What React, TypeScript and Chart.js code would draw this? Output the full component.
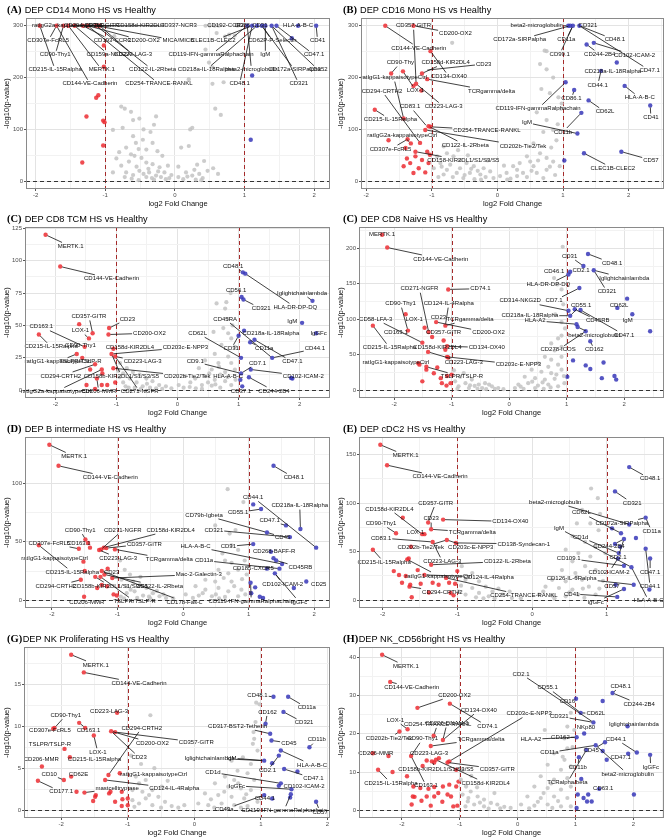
import React, { useEffect, useRef } from 'react';
import { Chart, registerables } from 'chart.js';

Chart.register(...registerables);

type Pt = [number, number];
type Lab = [string, number, number, number, number]; // text, pointX, pointY, labelX, labelY

const FC_LINES = [-1, 1];
const P_LINE = 0;
const X_TICKS = [-2, -1, 0, 1, 2];
const X_TICKS_E = [-2, -1, 0, 1];

// ---------------- (A) CD14 Mono ----------------
const A_GREY: Pt[] = [
  [0.44, 300], [0.5, 300], [0.57, 300], [0.63, 300], [0.6, 286], [0.78, 283], [0.72, 279], [0.9, 300], [0.86, 281],
  [-0.87, 280], [0.44, 254], [0.49, 229], [0.54, 220], [0.7, 191], [0.54, 188], [0.2, 197], [0.58, 140], [0.66, 128],
  [0.25, 103], [0.22, 100], [0.09, 65], [0.2, 68], [0.32, 32], [0.42, 39], [0.47, 20], [0.16, 17], [0.25, 11], [0.35, 14],
  [0.05, 8], [0.12, 4], [0.3, 3], [0.4, 6], [0.55, 25], [0.62, 14], [0.05, 28],
  [-0.77, 144], [-0.72, 140], [-0.63, 134], [-0.89, 99], [-0.75, 103], [-0.6, 118], [-0.51, 121], [-0.27, 125], [-0.3, 109],
  [-0.6, 87], [-0.56, 74], [-0.46, 80], [-0.7, 65], [-0.63, 52], [-0.58, 49], [-0.41, 61], [-0.32, 74], [-0.25, 58],
  [-0.18, 49], [-0.41, 36], [-0.32, 33], [-0.22, 27], [-0.15, 17], [-0.37, 17], [-0.51, 20], [-0.27, 11], [-0.2, 8],
  [-0.13, 4], [-0.7, 17], [-0.41, 8], [-0.89, 17], [-0.77, 30], [-0.48, 45], [-0.66, 38], [-0.35, 95], [-0.45, 100],
  [-0.8, 56], [-0.55, 28], [-0.1, 30], [-0.05, 12], [-0.62, 5], [-0.3, 3], [-0.52, 62], [-0.38, 24], [-0.6, 12],
  [-0.45, 14], [-0.33, 6], [-0.24, 19], [-0.08, 6], [0.18, 9], [0.28, 22], [0.38, 2], [-0.52, 2], [-0.72, 8], [-0.84, 44],
];
const A_DOWN: Pt[] = [
  [-1.94, 300], [-1.7, 300], [-1.6, 300], [-1.53, 300], [-1.44, 300], [-1.32, 300], [-1.25, 300], [-1.13, 300], [-1.08, 300],
  [-1.02, 262], [-1.02, 221], [-1.1, 166], [-1.13, 161], [-1.27, 125], [-1.03, 117], [-1.01, 114], [-1.03, 69], [-1.33, 36],
];
const A_UP: Pt[] = [
  [1.04, 300], [1.11, 300], [1.18, 300], [1.25, 300], [1.3, 300], [1.39, 300], [1.46, 300], [1.77, 300], [2.03, 300],
  [1.68, 276], [1.11, 204], [1.09, 80],
];
const A_LABELS: Lab[] = [
  ['ratIgG2a-kappaisotypeCtrl', -1.94, 300, -1.55, 300],
  ['CD294-CRTH2', -1.6, 300, -1.3, 300],
  ['CD357-GITR', -1.53, 300, -1.05, 300],
  ['CD158d-KIR2DL4', -1.44, 300, -0.5, 300],
  ['CD337-NCR3', -1.32, 300, 0.05, 300],
  ['CD192-CCR2', 1.04, 300, 0.73, 300],
  ['CD86', 1.11, 300, 0.97, 300],
  ['CD31', 1.25, 300, 1.22, 300],
  ['HLA-A-B-C', 1.77, 300, 1.77, 300],
  ['CD307e-FcRL5', -1.7, 300, -1.82, 271],
  ['CD193-CCR3', -1.32, 300, -0.9, 271],
  ['CD200-OX2', -1.25, 300, -0.45, 271],
  ['MICA/MICB', -1.13, 300, 0.05, 271],
  ['CLEC1B-CLEC2', 1.11, 300, 0.55, 271],
  ['CD62P-P-Selectin', 1.25, 300, 1.4, 271],
  ['CD41', 2.03, 300, 2.05, 271],
  ['CD90-Thy1', -1.6, 300, -1.72, 244],
  ['CD159a-NKG2A', -1.44, 300, -0.95, 244],
  ['CD223-LAG-3', -1.08, 300, -0.6, 244],
  ['CD119-IFN-gammaRalphachain', 1.04, 300, 0.52, 244],
  ['IgM', 1.3, 300, 1.3, 244],
  ['CD47.1', 1.46, 300, 2.0, 244],
  ['CD215-IL-15Ralpha', -1.94, 300, -1.72, 215],
  ['MERTK.1', -1.53, 300, -1.05, 215],
  ['CD122-IL-2Rbeta', -1.13, 300, -0.32, 215],
  ['CD218a-IL-18Ralpha', 1.18, 300, 0.45, 215],
  ['beta2-microglobulin', 1.04, 300, 1.1, 215],
  ['CD172a-SIRPalpha', 1.25, 300, 1.72, 215],
  ['CD352', 1.39, 300, 2.06, 215],
  ['CD144-VE-Cadherin', -1.7, 300, -1.22, 188],
  ['CD254-TRANCE-RANKL', -1.25, 300, -0.23, 188],
  ['CD48.1', 1.11, 300, 0.93, 188],
  ['CD321', 1.39, 300, 1.78, 188],
];
const A_YTICKS = [0, 100, 200, 300];

// ---------------- (B) CD16 Mono ----------------
const B_GREY: Pt[] = [
  [-0.69, 267], [0.75, 251], [0.65, 226], [0.75, 216], [0.85, 200], [0.67, 178], [0.93, 162], [0.6, 133], [0.75, 118],
  [0.85, 99], [0.9, 79], [0.55, 73], [0.65, 54], [0.75, 45], [0.85, 38], [0.45, 48], [0.34, 35], [0.55, 29], [0.24, 29],
  [0.14, 16], [0.39, 16], [0.6, 16], [0.75, 22], [0.95, 29], [-0.82, 67], [-0.77, 54], [-0.92, 48], [-0.67, 48],
  [-0.57, 41], [-0.87, 35], [-0.72, 32], [-0.47, 35], [-0.36, 29], [-0.57, 25], [-0.77, 22], [-0.21, 25], [-0.11, 19],
  [-0.42, 16], [-0.62, 16], [-0.82, 13], [-0.26, 13], [0.04, 10], [-0.06, 6], [-0.52, 6], [-0.97, 25], [-0.9, 8],
  [-0.35, 4], [0.2, 5], [0.45, 8], [0.7, 6], [0.88, 12], [0.3, 22], [0.5, 38], [0.82, 65], [0.92, 110], [0.97, 140],
  [0.7, 95], [-0.6, 60], [-0.45, 50], [-0.15, 40], [0.1, 30], [0.72, 252], [0.98, 150], [0.8, 170], [-0.3, 20], [0.62, 40],
  [-0.5, 12], [-0.68, 8], [-0.18, 8], [0.3, 10], [0.52, 20], [0.8, 28], [-0.4, 24], [-0.85, 28], [0.15, 3], [-0.25, 3],
];
const B_DOWN: Pt[] = [
  [-1.71, 300], [-1.28, 300], [-1.02, 251], [-1.62, 208], [-1.44, 212], [-1.15, 208], [-1.07, 197], [-1.28, 184],
  [-1.24, 188], [-1.16, 175], [-1.87, 138], [-1.43, 121], [-1.02, 105], [-1.05, 106], [-1.1, 99], [-1.66, 79],
  [-1.37, 81], [-1.32, 73], [-1.18, 74], [-1.4, 64], [-1.25, 57], [-1.07, 57], [-1.03, 51], [-1.25, 48], [-1.15, 41],
  [-1.33, 35], [-1.43, 29], [-1.28, 16], [-1.1, 17], [-1.05, 35], [-1.2, 25], [-1.38, 44],
];
const B_UP: Pt[] = [
  [1.08, 300], [1.11, 300], [1.15, 300], [1.25, 300], [1.36, 264], [1.47, 267], [1.82, 229], [1.58, 213], [1.94, 184],
  [1.39, 156], [1.04, 191], [1.17, 176], [1.28, 132], [1.22, 92], [2.33, 146], [1.89, 57], [1.32, 54], [1.02, 40],
];
const B_LABELS: Lab[] = [
  ['CD357-GITR', -1.24, 188, -1.28, 300],
  ['CD200-OX2', -1.28, 300, -0.64, 285],
  ['CD144-VE-Cadherin', -1.71, 300, -1.2, 257],
  ['CD90-Thy', -1.62, 208, -1.48, 229],
  ['CD158d-KIR2DL4', -1.15, 208, -0.79, 229],
  ['CD23', -1.1, 214, -0.21, 226],
  ['ratIgG1-kappaisotypeCtrl', -1.43, 121, -1.58, 200],
  ['CD134-OX40', -1.02, 251, -0.74, 202],
  ['LOX-1', -1.44, 212, -1.25, 176],
  ['TCRgamma/delta', -1.07, 197, -0.09, 174],
  ['CD294-CRTH2', -1.18, 74, -1.76, 174],
  ['CD223-LAG-3', -1.24, 188, -0.82, 144],
  ['CD83.1', -1.07, 105, -1.33, 144],
  ['CD215-IL-15Ralpha', -1.87, 138, -1.63, 119],
  ['CD254-TRANCE-RANKL', -1.02, 105, -0.16, 99],
  ['ratIgG2a-kappaisotypeCtrl', -1.32, 73, -1.45, 89],
  ['CD122-IL-2Rbeta', -1.05, 106, -0.49, 70],
  ['CD202b-Tie2/Tek', -1.1, 99, 0.39, 68],
  ['CD307e-FcRL5', -1.37, 81, -1.63, 62],
  ['CD158-KIR2DL1/S1/S3/S5', -1.25, 57, -0.52, 40],
  ['beta2-microglobulin', 1.08, 300, 0.6, 300],
  ['CD321', 1.25, 300, 1.38, 300],
  ['CD172a-SIRPalpha', 1.11, 300, 0.34, 273],
  ['CD11a', 1.15, 300, 1.05, 273],
  ['CD48.1', 1.25, 300, 1.79, 273],
  ['CD99.1', 1.15, 300, 0.95, 245],
  ['CD244-2B4', 1.36, 264, 1.56, 245],
  ['CD102-ICAM-2', 1.47, 267, 2.09, 243],
  ['CD218a-IL-18Ralpha', 1.58, 213, 1.76, 212],
  ['CD47.1', 1.25, 300, 2.32, 214],
  ['CD44.1', 1.58, 213, 1.53, 186],
  ['HLA-A-B-C', 1.94, 184, 2.17, 161],
  ['CD86.1', 1.17, 176, 1.13, 159],
  ['CD119-IFN-gammaRalphachain', 1.04, 191, 0.62, 140],
  ['CD62L', 1.39, 156, 1.64, 134],
  ['CD41', 2.33, 146, 2.34, 123],
  ['IgM', 1.22, 92, 0.45, 113],
  ['CD11b', 1.28, 132, 1.0, 95],
  ['CD57', 1.89, 57, 2.34, 41],
  ['CLEC1B-CLEC2', 1.32, 54, 1.76, 25],
];
const B_YTICKS = [0, 100, 200, 300];

// ---------------- (C) CD8 TCM ----------------
const C_GREY: Pt[] = [
  [0.87, 75], [0.64, 67], [0.8, 68], [0.78, 63], [0.83, 55], [0.59, 45], [0.83, 44], [0.88, 40], [0.72, 35], [0.94, 33.5],
  [0.61, 28], [0.83, 26], [0.45, 23], [0.67, 21], [0.88, 21], [0.35, 17], [0.56, 16], [0.78, 14], [0.94, 16], [0.13, 11],
  [0.29, 9], [0.45, 11], [0.61, 8], [0.78, 7], [0.02, 4], [0.21, 6], [0.4, 4], [0.56, 3.5], [0.88, 4], [0.1, 2], [0.3, 1.5],
  [0.7, 2], [0.5, 6], [0.95, 8], [-0.94, 21], [-0.83, 17], [-0.73, 14], [-0.89, 13], [-0.62, 12], [-0.51, 9], [-0.78, 9],
  [-0.41, 7], [-0.67, 6], [-0.3, 4], [-0.19, 3], [-0.89, 6], [-0.57, 3], [-0.95, 10], [-0.45, 2], [-0.7, 2], [-0.85, 3],
  [-0.35, 1.5], [-0.1, 1.5], [-0.6, 1], [0.7, 12], [0.9, 50], [0.75, 48],
  [0.2, 2.5], [0.4, 1], [0.62, 4.5], [0.82, 10], [0.52, 13], [0.68, 18], [-0.25, 1], [-0.5, 5], [-0.8, 2], [-0.97, 15],
];
const C_DOWN: Pt[] = [
  [-2.16, 120], [-1.92, 95.5], [-1.61, 51], [-1.39, 44], [-1.45, 40], [-1.12, 48], [-1.13, 43], [-2.27, 43], [-1.52, 33.5],
  [-1.65, 28], [-1.56, 25], [-1.35, 20], [-1.43, 16], [-1.24, 16], [-1.23, 13], [-1.32, 9], [-1.49, 4], [-1.05, 32],
  [-1.08, 28], [-1.02, 26], [-1.05, 17], [-1.02, 6], [-1.24, 4], [-1.15, 4], [-1.35, 1],
];
const C_UP: Pt[] = [
  [1.07, 91], [1.11, 90], [1.05, 72], [1.08, 70], [2.21, 69], [2.04, 52], [2.27, 44], [1.09, 46], [1.0, 42], [1.26, 39],
  [1.19, 37], [1.55, 25], [1.04, 25], [1.2, 16], [1.88, 9], [1.86, 9.5], [1.04, 13], [1.17, 10], [1.03, 8], [1.06, 3],
];
const C_LABELS: Lab[] = [
  ['MERTK.1', -2.16, 120, -1.75, 111],
  ['CD144-VE-Cadherin', -1.92, 95.5, -1.08, 86],
  ['CD357-GITR', -1.39, 44, -1.45, 57],
  ['CD23', -1.12, 48, -0.82, 55],
  ['LOX-1', -1.45, 40, -1.59, 46],
  ['CD200-OX2', -1.13, 43, -0.46, 44],
  ['CD163.1', -1.52, 33.5, -2.23, 49],
  ['CD215-IL-15Ralpha', -2.27, 43, -2.07, 33.5],
  ['CD90-Thy1', -1.52, 33.5, -1.59, 35],
  ['CD158d-KIR2DL4', -1.05, 32, -0.78, 33],
  ['CD203c-E-NPP3', -1.08, 28, 0.13, 33],
  ['ratIgG1-kappaisotypeCtrl', -1.65, 28, -1.96, 22],
  ['TSLPR/TSLP-R', -1.56, 25, -1.59, 22],
  ['CD223-LAG-3', -1.02, 26, -0.57, 22],
  ['CD294-CRTH2', -1.35, 20, -1.91, 11],
  ['CD158b-KIR2DL1/S1/S3/S5', -1.08, 28, -0.92, 11],
  ['CD202b-Tie2/Tek', -1.05, 17, 0.16, 11],
  ['ratIgG2a-kappaisotypeCtrl', -1.24, 16, -1.99, -1],
  ['CD206-MMR', -1.32, 9, -1.29, -1],
  ['CD271-NGFR', -1.02, 26, -0.62, -1],
  ['CD48.1', 1.07, 91, 0.91, 96],
  ['HLA-DR-DP-DQ', 1.11, 90, 1.93, 64],
  ['CD56.1', 1.05, 72, 0.96, 77],
  ['CD321', 1.08, 70, 1.37, 63],
  ['Iglightchainlambda', 2.21, 69, 2.04, 75],
  ['IgM', 2.04, 52, 1.88, 53],
  ['IgGFc', 2.27, 44, 2.31, 44],
  ['CD45RA', 1.55, 25, 0.78, 55],
  ['CD218a-IL-18Ralpha', 1.09, 46, 1.53, 44],
  ['CD62L', 1.04, 25, 0.33, 44],
  ['CD11a', 1.19, 37, 1.42, 32],
  ['CD44.1', 1.55, 25, 2.25, 32],
  ['CD31', 1.0, 42, 0.88, 32],
  ['CD47.1', 1.26, 39, 1.88, 22],
  ['CD7.1', 1.04, 13, 1.31, 21],
  ['CD9.1', 1.04, 13, 0.29, 22],
  ['HLA-A-B-C', 1.03, 8, 0.83, 11],
  ['CD102-ICAM-2', 1.2, 16, 2.06, 11],
  ['CD37.1', 1.06, 3, 1.04, -1],
  ['CD244-2B4', 1.17, 10, 1.58, -0.5],
];
const C_YTICKS = [0, 25, 50, 75, 100, 125];

// ---------------- (C) CD8 Naive ----------------
const N_GREY: Pt[] = [
  [0.93, 202], [0.78, 158], [0.84, 149], [0.91, 142], [0.94, 121], [0.8, 107], [0.91, 96], [0.97, 87], [0.91, 77],
  [0.85, 73], [0.73, 66], [0.79, 56], [0.91, 61], [0.62, 47], [0.73, 43], [0.91, 47], [0.5, 38], [0.68, 33], [0.85, 36],
  [0.39, 29], [0.56, 26], [0.73, 24], [0.91, 29], [0.27, 19], [0.45, 17], [0.62, 15], [0.79, 16], [0.16, 8], [0.33, 10],
  [0.5, 6.5], [0.68, 8], [0.85, 5.5], [0.96, 10], [0.1, 3], [0.25, 2], [0.6, 2], [0.4, 12], [0.95, 20],
  [-0.94, 12.5], [-0.85, 19], [-0.76, 10], [-0.65, 15], [-0.53, 8], [-0.42, 10], [-0.3, 5.5], [-0.19, 3], [-0.88, 5.5],
  [-0.7, 3], [-0.47, 3], [-0.6, 6], [-0.79, 24], [-0.96, 28], [-0.25, 2], [-0.1, 1.5], [-0.55, 2], [-0.35, 8],
  [0.2, 5], [0.45, 3], [0.72, 4], [0.58, 11], [0.82, 22], [-0.4, 1.5], [-0.68, 7], [-0.9, 2],
];
const N_DOWN: Pt[] = [
  [-2.21, 219], [-2.12, 201], [-1.06, 142], [-1.8, 107], [-1.76, 84], [-2.37, 91], [-1.47, 88], [-1.4, 82], [-1.27, 96],
  [-1.11, 91], [-1.34, 75], [-1.14, 70], [-1.51, 67], [-1.08, 62], [-1.11, 57], [-1.41, 54], [-1.08, 47], [-1.06, 46],
  [-1.58, 38], [-1.56, 36], [-1.44, 33], [-1.44, 29], [-1.25, 32], [-1.31, 24], [-1.51, 12.5], [-1.19, 17], [-1.08, 20],
  [-1.17, 10], [-1.09, 6.5], [-1.02, 10], [-1.0, 22],
];
const N_UP: Pt[] = [
  [1.37, 192], [1.29, 175], [1.47, 169], [1.03, 163], [1.06, 167], [1.22, 144], [2.05, 129], [1.88, 116], [2.14, 107],
  [2.45, 83], [1.03, 112], [1.14, 114], [1.06, 105], [1.24, 113], [1.17, 93], [1.19, 89], [1.33, 83], [1.41, 69],
  [1.11, 42], [1.33, 35], [1.41, 30], [1.64, 39], [1.61, 17], [1.83, 20], [1.86, 15], [1.01, 19],
];
const N_LABELS: Lab[] = [
  ['MERTK.1', -2.21, 219, -2.21, 219],
  ['CD144-VE-Cadherin', -2.12, 201, -1.19, 185],
  ['CD74.1', -1.06, 142, -0.5, 143],
  ['CD271-NGFR', -1.4, 82, -1.56, 143],
  ['CD124-IL-4Ralpha', -1.11, 91, -1.05, 122],
  ['CD90-Thy1', -1.76, 84, -1.89, 122],
  ['LOX-1', -1.8, 107, -1.65, 100],
  ['CD23', -1.27, 96, -1.23, 102],
  ['TCRgamma/delta', -1.11, 91, -0.68, 100],
  ['CD58-LFA-3', -1.51, 67, -2.32, 100],
  ['CD163.1', -1.76, 84, -1.97, 81],
  ['CD357-GITR', -1.14, 70, -1.14, 81],
  ['CD200-OX2', -1.27, 96, -0.36, 81],
  ['CD215-IL-15Ralpha', -2.37, 91, -2.08, 60],
  ['CD158d-KIR2DL4', -1.08, 62, -1.25, 60],
  ['CD134-OX40', -1.08, 62, -0.39, 60],
  ['ratIgG1-kappaisotypeCtrl', -1.58, 38, -1.97, 39],
  ['CD223-LAG-3', -1.41, 54, -0.79, 39],
  ['CD203c-E-NPP3', -1.08, 47, 0.16, 36],
  ['TSLPR/TSLP-R', -1.44, 33, -0.82, 19],
  ['CD31', 1.29, 175, 1.05, 189],
  ['CD48.1', 1.37, 192, 1.79, 179],
  ['CD2.1', 1.06, 167, 1.25, 169],
  ['CD46.1', 1.03, 163, 0.78, 168],
  ['Iglightchainlambda', 1.47, 169, 2.0, 158],
  ['HLA-DR-DP-DQ', 1.03, 163, 0.68, 149],
  ['CD321', 1.47, 169, 1.7, 139],
  ['CD314-NKG2D', 1.03, 112, 0.19, 126],
  ['CD7.1', 1.22, 144, 0.78, 126],
  ['CD62L', 1.88, 116, 1.91, 119],
  ['CD55.1', 1.06, 105, 1.25, 120],
  ['CD218a-IL-18Ralpha', 1.06, 105, 0.36, 105],
  ['HLA-A2', 1.17, 93, 0.45, 98],
  ['CD45RB', 1.14, 114, 1.54, 98],
  ['IgM', 2.14, 107, 2.06, 98],
  ['beta2-microglobulin', 1.19, 89, 1.48, 78],
  ['CD47.1', 1.24, 113, 2.0, 78],
  ['CD278-ICOS', 1.33, 83, 0.85, 57],
  ['CD162', 1.41, 69, 1.48, 57],
];
const N_YTICKS = [0, 50, 100, 150, 200];

// ---------------- (D) B intermediate ----------------
const D_GREY: Pt[] = [
  [0.68, 95], [0.92, 84], [0.49, 64], [0.71, 57], [0.74, 47], [0.84, 43], [0.64, 34], [0.74, 32], [0.94, 34], [0.54, 26],
  [0.69, 23], [0.84, 26], [0.97, 22], [0.34, 17.5], [0.49, 16], [0.74, 16], [0.19, 12], [0.34, 9], [0.54, 10.5],
  [0.69, 7.6], [0.89, 9], [0.04, 5], [0.24, 4], [0.44, 3.4], [0.64, 2.8], [0.84, 3.4], [0.15, 2], [0.55, 1.5], [0.95, 5],
  [0.6, 40], [0.8, 60],
  [-0.96, 34], [-0.89, 26], [-0.81, 22], [-0.94, 17.5], [-0.76, 16], [-0.66, 13], [-0.86, 12], [-0.56, 10.5],
  [-0.74, 7.6], [-0.46, 6], [-0.86, 6], [-0.61, 4], [-0.36, 3.4], [-0.26, 2], [-0.7, 2], [-0.5, 1.5], [-0.15, 1.5],
  [-0.95, 3], [-0.4, 8], [-0.65, 20],
  [0.3, 6], [0.5, 5], [0.78, 12], [0.9, 18], [0.62, 19], [-0.3, 5], [-0.52, 3], [-0.8, 9], [-0.9, 1.5],
];
const D_DOWN: Pt[] = [
  [-2.04, 133], [-1.9, 115], [-2.2, 47], [-1.49, 52], [-1.45, 49], [-1.59, 44], [-1.42, 45], [-1.28, 43], [-1.25, 43.5],
  [-1.21, 45], [-1.17, 44.6], [-1.04, 43.5], [-1.52, 33], [-1.5, 25], [-1.24, 25], [-1.15, 27], [-1.2, 22], [-1.34, 20],
  [-1.26, 20], [-1.08, 19], [-1.56, 17.5], [-1.31, 10.5], [-1.24, 13], [-1.16, 12], [-1.06, 5], [-1.01, 4], [-1.51, 3],
];
const D_UP: Pt[] = [
  [1.38, 115], [1.07, 82], [1.19, 78], [1.57, 64], [1.79, 61], [1.63, 54], [2.03, 45], [1.28, 58], [1.07, 48], [1.34, 41.5],
  [1.38, 36], [1.42, 34], [1.51, 31], [1.47, 27], [1.4, 23], [1.69, 10.5], [1.88, 16], [1.03, 15], [1.1, 11], [1.17, 3],
  [1.22, 2], [1.04, 6], [1.28, 27],
];
const D_LABELS: Lab[] = [
  ['MERTK.1', -2.04, 133, -1.66, 123],
  ['CD144-VE-Cadherin', -1.9, 115, -1.11, 105],
  ['CD90-Thy1', -1.49, 52, -1.57, 60],
  ['CD271-NGFR', -1.25, 43.5, -0.92, 60],
  ['CD158d-KIR2DL4', -1.21, 45, -0.19, 60],
  ['CD307e-FcRL5', -1.59, 44, -2.04, 49],
  ['CD163.1', -1.45, 49, -1.59, 49],
  ['CD357-GITR', -1.17, 44.6, -0.59, 48],
  ['ratIgG1-kappaisotypeCtrl', -1.52, 33, -1.96, 36],
  ['CD223-LAG-3', -1.28, 43, -0.99, 36],
  ['TCRgamma/delta', -1.04, 43.5, -0.21, 35],
  ['CD215-IL-15Ralpha', -2.2, 47, -1.69, 24],
  ['CD23', -1.15, 27, -1.09, 24],
  ['Mac-2-Galectin-3', -1.08, 19, 0.24, 22],
  ['CD294-CRTH2', -1.56, 17.5, -1.94, 12],
  ['CD158b-KIR2DL1/S1/S3/S5', -1.34, 20, -1.11, 12],
  ['CD122-IL-2Rbeta', -1.2, 22, -0.36, 12],
  ['CD206-MMR', -1.51, 3, -1.47, -1.4],
  ['TSLPR/TSLP-R', -1.26, 20, -0.74, -1],
  ['CD178-Fas-L', -1.24, 25, 0.02, -1.4],
  ['CD48.1', 1.38, 115, 1.69, 105],
  ['CD44.1', 2.03, 45, 1.07, 88],
  ['CD218a-IL-18Ralpha', 1.79, 61, 1.78, 81],
  ['CD79b-Igbeta', 1.28, 58, 0.32, 73],
  ['CD55.1', 1.19, 78, 0.84, 75],
  ['CD47.1', 1.57, 64, 1.32, 68],
  ['CD321', 1.63, 54, 0.47, 60],
  ['CD45', 1.28, 58, 1.52, 54],
  ['HLA-A-B-C', 1.51, 31, 0.19, 46],
  ['CD31', 1.07, 48, 0.69, 46],
  ['CD268-BAFF-R', 1.34, 41.5, 1.39, 41.5],
  ['CD11a', 1.47, 27, 0.32, 34],
  ['CD45RB', 1.42, 34, 1.79, 28],
  ['CD185-CXCR5', 1.28, 27, 1.07, 27],
  ['CD102-ICAM-2', 1.4, 23, 1.52, 14],
  ['CD25', 1.88, 16, 2.07, 14],
  ['CD119-IFN-gammaRalphachain', 1.03, 15, 1.04, -1],
  ['IgGFc', 1.4, 23, 1.77, -1.4],
];
const D_YTICKS = [0, 50, 100];

// ---------------- (E) cDC2 ----------------
const E_GREY: Pt[] = [
  [0.79, 115], [0.67, 93], [0.88, 105], [0.6, 79], [0.78, 79], [0.91, 89], [0.89, 72], [0.54, 66], [0.71, 60], [0.85, 55],
  [0.45, 52], [0.62, 48.5], [0.78, 45], [0.98, 48.5], [0.54, 40], [0.71, 35], [0.4, 31], [0.58, 28], [0.85, 31], [0.27, 21],
  [0.45, 19.5], [0.67, 21], [0.18, 14], [0.36, 12.6], [0.54, 11], [0.76, 14], [0.09, 5.8], [0.27, 4.8], [0.45, 4],
  [0.62, 5.8], [0.85, 5.8], [0.95, 20], [0.3, 2], [0.7, 2.5],
  [-0.94, 35], [-0.8, 28], [-0.89, 21], [-0.71, 19.5], [-0.62, 14], [-0.8, 12.6], [-0.53, 9], [-0.71, 7.5], [-0.4, 5.8],
  [-0.58, 4], [-0.27, 2.4], [-0.89, 5.8], [-0.15, 2], [-0.45, 12], [-0.95, 15], [-0.65, 2], [-0.3, 9],
  [0.15, 9], [0.5, 8], [0.68, 12], [0.9, 12], [0.6, 24], [-0.5, 2], [-0.75, 3], [-0.98, 9],
];
const E_DOWN: Pt[] = [
  [-2.03, 160], [-1.94, 139], [-1.19, 83], [-1.39, 80], [-1.73, 85], [-1.82, 69], [-1.47, 68], [-1.44, 68], [-1.35, 73],
  [-1.02, 59], [-1.14, 62], [-1.62, 55], [-2.13, 52], [-1.33, 60], [-1.35, 36.5], [-1.65, 43], [-1.67, 42], [-1.85, 30],
  [-1.78, 26], [-1.69, 25], [-1.53, 31], [-1.44, 26], [-1.74, 18], [-1.63, 16], [-1.64, 14], [-1.49, 17], [-1.38, 8],
  [-1.33, 18], [-1.25, 16], [-1.15, 23], [-1.11, 18], [-1.03, 17], [-1.09, 7.5], [-1.05, 5], [-1.61, 3], [-1.0, 30],
];
const E_UP: Pt[] = [
  [1.3, 137], [1.11, 112], [1.52, 85], [1.3, 78], [1.19, 69], [1.07, 74], [1.23, 63], [1.39, 64], [1.52, 53], [1.58, 43],
  [1.11, 58], [1.18, 55], [1.16, 48.5], [1.15, 43], [1.23, 35.5], [1.33, 34], [1.36, 16], [1.23, 11.6], [1.12, 16],
  [1.57, 11], [1.14, 3.4],
];
const E_LABELS: Lab[] = [
  ['MERTK.1', -2.03, 160, -1.69, 149],
  ['CD144-VE-Cadherin', -1.94, 139, -1.23, 127],
  ['CD357-GITR', -1.39, 80, -1.29, 100],
  ['CD158d-KIR2DL4', -1.47, 68, -1.91, 94],
  ['CD23', -1.35, 73, -1.35, 84],
  ['CD134-OX40', -1.19, 83, -0.29, 81],
  ['CD90-Thy1', -1.82, 69, -2.02, 79],
  ['LOX-1', -1.47, 68, -1.56, 70],
  ['TCRgamma/delta', -1.35, 73, -0.8, 70],
  ['CD83.1', -1.33, 60, -2.02, 64],
  ['CD202b-Tie2/Tek', -1.14, 62, -1.49, 54],
  ['CD203c-E-NPP3', -1.14, 62, -0.82, 54],
  ['CD138-Syndecan-1', -1.02, 59, -0.11, 58],
  ['CD215-IL-15Ralpha', -2.13, 52, -1.98, 39],
  ['CD223-LAG-3', -1.33, 60, -1.2, 40],
  ['CD122-IL-2Rbeta', -1.35, 36.5, -0.33, 40],
  ['ratIgG1-kappaisotypeCtrl', -1.67, 42, -1.25, 25],
  ['CD124-IL-4Ralpha', -1.44, 26, -0.58, 24],
  ['CD294-CRTH2', -1.64, 14, -1.2, 8.5],
  ['CD254-TRANCE-RANKL', -1.15, 23, -0.11, 4.8],
  ['CD48.1', 1.3, 137, 1.58, 125],
  ['CD321', 1.11, 112, 1.34, 100],
  ['beta2-microglobulin', 1.3, 78, 0.31, 101],
  ['CD62L', 1.19, 69, 0.66, 90],
  ['CD172a-SIRPalpha', 1.52, 85, 1.2, 79],
  ['CD11a', 1.52, 85, 1.6, 71],
  ['IgM', 1.33, 34, 0.36, 74],
  ['CD1d', 1.16, 48.5, 0.65, 65],
  ['CD244-2B4', 1.23, 63, 1.03, 55],
  ['CD2.1', 1.23, 63, 1.15, 44],
  ['CD109.1', 1.23, 35.5, 0.49, 43],
  ['CD102-ICAM-2', 1.15, 43, 1.03, 29],
  ['CD47.1', 1.58, 43, 1.58, 29],
  ['CD126-IL-6Ralpha', 1.36, 16, 0.53, 23],
  ['CD44.1', 1.52, 53, 1.58, 14],
  ['CD57', 1.12, 16, 1.07, 14],
  ['CD41', 1.14, 3.4, 0.53, 6.5],
  ['IgGFc', 1.23, 11.6, 0.85, -2],
  ['HLA-A-B-C', 1.33, 34, 1.56, -0.5],
];
const E_YTICKS = [0, 50, 100, 150];

// ---------------- (G) NK Proliferating ----------------
const G_GREY: Pt[] = [
  [0.98, 12.6], [0.93, 12.8], [-0.66, 11.3], [0.89, 9.3], [0.9, 8.5], [0.88, 7.9], [0.95, 7.1], [0.73, 6.3], [0.56, 5.9],
  [0.85, 5.5], [0.65, 4.7], [0.8, 4.4], [0.46, 4.0], [0.6, 3.6], [0.9, 3.6], [0.31, 3.2], [0.51, 2.8], [0.7, 2.6],
  [0.85, 2.4], [0.16, 2.0], [0.36, 1.8], [0.56, 1.6], [0.75, 1.4], [0.06, 0.8], [0.21, 0.6], [0.41, 0.8], [0.6, 0.6],
  [0.8, 0.5], [0.95, 1.0], [0.3, 0.3], [0.7, 0.3], [0.92, 10.5],
  [-0.88, 4.0], [-0.83, 3.2], [-0.73, 3.6], [-0.93, 2.4], [-0.78, 2.2], [-0.63, 2.4], [-0.54, 1.6], [-0.73, 1.4],
  [-0.44, 1.0], [-0.83, 0.8], [-0.63, 0.6], [-0.34, 0.5], [-0.24, 0.3], [-0.93, 1.2], [-0.49, 2.8], [-0.6, 5.0],
  [-0.8, 5.5], [-0.95, 6.5], [-0.4, 3.5], [-0.15, 0.6],
  [0.25, 1.3], [0.45, 2.2], [0.66, 3.2], [0.78, 1.9], [0.5, 0.2], [-0.5, 0.3], [-0.68, 1.8], [-0.9, 0.4],
];
const G_DOWN: Pt[] = [
  [-1.85, 18.5], [-1.66, 16.4], [-1.16, 11.6], [-1.73, 10.4], [-1.64, 9.8], [-2.12, 9.7], [-2.1, 9.8], [-1.25, 9.4],
  [-1.19, 9.3], [-1.51, 8.9], [-1.95, 7.3], [-1.87, 6.3], [-2.29, 5.2], [-1.29, 4.2], [-1.85, 4.0], [-1.96, 3.6],
  [-1.12, 4.4], [-1.34, 3.6], [-2.35, 3.5], [-1.77, 2.2], [-1.65, 2.1], [-1.48, 1.8], [-1.52, 1.1], [-1.49, 1.6],
  [-1.28, 2.0], [-1.26, 2.2], [-1.09, 2.2], [-1.08, 1.3], [-1.19, 1.0], [-1.0, 1.4], [-1.0, 0.6], [-1.09, 0.5],
];
const G_UP: Pt[] = [
  [1.19, 13.5], [1.41, 13.5], [1.34, 11.7], [1.07, 10.3], [1.14, 9.1], [1.16, 8.3], [1.73, 7.5], [1.3, 7.1], [1.27, 6.5],
  [1.05, 5.9], [1.17, 5.6], [1.35, 4.9], [1.55, 4.6], [1.3, 3.2], [1.27, 2.9], [1.46, 2.5], [1.45, 1.9], [1.05, 1.8],
  [1.17, 1.4], [1.83, 1.0], [1.44, 1.5],
];
const G_LABELS: Lab[] = [
  ['MERTK.1', -1.85, 18.5, -1.48, 17.3],
  ['CD144-VE-Cadherin', -1.66, 16.4, -0.83, 15.1],
  ['CD90-Thy1', -2.1, 9.8, -1.93, 11.3],
  ['CD223-LAG-3', -1.16, 11.6, -1.28, 11.8],
  ['CD307e-FcRL5', -2.12, 9.7, -2.17, 9.5],
  ['CD163.1', -1.73, 10.4, -1.59, 9.5],
  ['CD294-CRTH2', -1.29, 4.2, -0.79, 9.8],
  ['CD200-OX2', -1.25, 9.4, -0.63, 8.0],
  ['CD357-GITR', -1.19, 9.3, 0.03, 8.1],
  ['TSLPR/TSLP-R', -1.95, 7.3, -2.17, 7.8],
  ['LOX-1', -1.51, 8.9, -1.45, 6.9],
  ['CD23', -1.25, 9.4, -0.83, 6.3],
  ['CD206-MMR', -2.29, 5.2, -2.3, 6.1],
  ['CD215-IL-15Ralpha', -1.87, 6.3, -1.5, 6.0],
  ['ratIgG1-kappaisotypeCtrl', -1.12, 4.4, -0.61, 4.3],
  ['CD10', -1.96, 3.6, -2.18, 4.3],
  ['CD62E', -1.85, 4.0, -1.74, 4.3],
  ['CD124-IL-4Ralpha', -1.34, 3.6, -0.3, 2.6],
  ['mastcelltryptase', -1.65, 2.1, -1.16, 2.6],
  ['CD177.1', -2.35, 3.5, -2.0, 2.2],
  ['CD48.1', 1.19, 13.5, 0.95, 13.7],
  ['CD11a', 1.41, 13.5, 1.69, 12.2],
  ['CD162', 1.07, 10.3, 1.1, 11.7],
  ['CD321', 1.34, 11.7, 1.65, 10.4],
  ['CD317-BST2-Tetherin', 1.14, 9.1, 0.65, 10.0],
  ['CD45', 1.16, 8.3, 1.42, 8.0],
  ['CD11b', 1.73, 7.5, 1.84, 8.4],
  ['Iglightchainlambda', 1.05, 5.9, 0.23, 6.2],
  ['IgM', 1.05, 5.9, 0.56, 6.2],
  ['HLA-A-B-C', 1.3, 7.1, 1.77, 5.4],
  ['CD2.1', 1.27, 6.5, 1.1, 4.7],
  ['CD47.1', 1.35, 4.9, 1.79, 3.8],
  ['CD1d', 1.3, 3.2, 0.28, 4.5],
  ['CD102-ICAM-2', 1.27, 2.9, 1.65, 2.8],
  ['IgGFc', 1.46, 2.5, 0.64, 2.9],
  ['CD44.1', 1.17, 1.4, 1.06, 1.4],
  ['CD49a', 1.05, 1.8, 0.45, 0.1],
  ['CD119-IFN-gammaRalphachain', 1.45, 1.9, 1.35, 0.0],
  ['CD57', 1.83, 1.0, 1.89, -0.2],
];
const G_YTICKS = [0, 5, 10, 15];

// ---------------- (H) NK_CD56bright ----------------
const H_GREY: Pt[] = [
  [0.92, 25.5], [0.86, 21.9], [0.47, 21], [0.98, 21], [0.81, 18.8], [0.86, 16.2], [0.63, 14.9], [0.81, 13.2], [0.52, 11.9],
  [0.75, 10.6], [0.92, 11.5], [0.4, 8.9], [0.63, 8.0], [0.86, 8.4], [0.29, 6.2], [0.52, 5.8], [0.75, 5.4], [0.92, 6.2],
  [0.17, 3.6], [0.4, 3.2], [0.63, 3.6], [0.86, 3.2], [0.06, 1.5], [0.29, 1.2], [0.52, 1.5], [0.75, 1.0], [0.92, 1.0],
  [0.2, 0.5], [0.6, 0.6], [0.95, 16.5],
  [-0.98, 8.0], [-0.89, 6.2], [-0.81, 4.9], [-0.95, 4.1], [-0.69, 3.6], [-0.58, 2.8], [-0.86, 2.3], [-0.46, 1.9],
  [-0.35, 1.5], [-0.75, 1.5], [-0.23, 0.9], [-0.58, 1.0], [-0.12, 0.6], [-0.95, 10.5], [-0.8, 9.0], [-0.7, 6.0],
  [-0.4, 4.5], [-0.9, 1.0], [-0.3, 0.5],
  [0.35, 2.2], [0.7, 2.4], [0.58, 7.0], [0.78, 14.0], [0.45, 4.5], [-0.5, 0.4], [-0.65, 2.0], [-0.85, 3.2],
];
const H_DOWN: Pt[] = [
  [-2.34, 40.7], [-2.2, 33.6], [-1.73, 26.8], [-1.17, 27.9], [-2.04, 20.6], [-1.9, 21.2], [-1.45, 19.5], [-1.29, 18.4],
  [-2.5, 14.9], [-2.23, 14.2], [-2.41, 10.6], [-2.16, 10.0], [-1.91, 8.9], [-1.84, 14.2], [-1.64, 11.6], [-1.5, 16.8],
  [-1.57, 13.0], [-1.48, 12.8], [-1.44, 12.5], [-1.41, 13.2], [-1.36, 13.6], [-1.21, 12.5], [-1.18, 12.8], [-1.06, 10.6],
  [-1.8, 6.2], [-1.68, 5.8], [-1.54, 5.6], [-1.44, 6.1], [-1.29, 6.2], [-1.18, 6.7], [-1.06, 6.2], [-1.02, 7.5],
  [-1.81, 3.6], [-1.78, 3.5], [-1.57, 3.6], [-1.44, 3.6], [-1.37, 4.5], [-1.21, 4.1], [-1.15, 3.6], [-1.83, 1.5],
  [-1.5, 1.2], [-1.11, 1.0], [-1.04, 1.2], [-1.3, 2.2], [-1.66, 2.5],
];
const H_UP: Pt[] = [
  [1.01, 29.2], [1.47, 28.6], [1.64, 30.7], [1.09, 25.5], [1.31, 23.0], [1.9, 22.0], [1.15, 20.1], [1.02, 19.1],
  [1.51, 17.8], [1.35, 17.0], [1.47, 15.5], [1.19, 15.8], [1.91, 14.8], [2.06, 15.1], [2.29, 14.5], [1.06, 13.9],
  [1.54, 13.2], [1.1, 8.2], [1.41, 5.6], [2.01, 4.1], [1.04, 4.1], [1.22, 4.1], [1.14, 3.2], [1.28, 2.3], [1.2, 2.3],
  [1.02, 0.6],
];
const H_LABELS: Lab[] = [
  ['MERTK.1', -2.34, 40.7, -1.93, 37.7],
  ['CD144-VE-Cadherin', -2.2, 33.6, -1.83, 32.1],
  ['CD200-OX2', -1.73, 26.8, -1.09, 30.1],
  ['CD134-OX40', -1.29, 18.4, -0.67, 26.2],
  ['CD203c-E-NPP3', -1.18, 12.8, 0.2, 25.3],
  ['CD74.1', -1.17, 27.9, -0.52, 22.0],
  ['LOX-1', -1.9, 21.2, -2.11, 23.6],
  ['CD254-TRANCE-RANKL', -1.45, 19.5, -1.38, 22.6],
  ['CD226-DNAM-1', -1.29, 18.4, -1.22, 22.7],
  ['TCRgamma/delta', -1.5, 16.8, -0.63, 18.6],
  ['CD202b-Tie2/Tek', -2.04, 20.6, -2.22, 18.8],
  ['CD90-Thy1', -1.84, 14.2, -1.64, 18.7],
  ['CD206-MMR', -2.5, 14.9, -2.45, 14.8],
  ['CD223-LAG-3', -1.36, 13.6, -1.53, 14.8],
  ['CD158b-KIR2DL1/S1/S3/S5', -1.48, 12.8, -1.41, 10.8],
  ['CD357-GITR', -1.21, 12.5, -0.35, 10.8],
  ['CD215-IL-15Ralpha', -2.41, 10.6, -2.19, 7.1],
  ['CD163.1', -1.84, 14.2, -1.58, 6.4],
  ['CD158d-KIR2DL4', -1.41, 13.2, -0.55, 7.1],
  ['CD2.1', 1.31, 23.0, 0.06, 35.7],
  ['CD55.1', 1.09, 25.5, 0.52, 32.1],
  ['CD48.1', 1.64, 30.7, 1.78, 32.5],
  ['CD244-2B4', 1.64, 30.7, 2.1, 27.8],
  ['CD16', 1.01, 29.2, 0.86, 28.6],
  ['CD62L', 1.09, 25.5, 1.35, 25.3],
  ['CD321', 1.31, 23.0, 0.72, 24.6],
  ['Iglightchainlambda', 1.9, 22.0, 2.01, 22.6],
  ['NKp80', 1.15, 20.1, 1.18, 21.6],
  ['HLA-A2', 1.02, 19.1, 0.23, 18.6],
  ['CD162', 1.02, 19.1, 0.74, 19.1],
  ['CD44.1', 2.06, 15.1, 1.7, 18.6],
  ['CD45', 1.51, 17.8, 1.27, 15.6],
  ['CD11a', 1.35, 17.0, 0.55, 15.1],
  ['CD47.1', 1.91, 14.8, 1.78, 13.9],
  ['IgGFc', 2.29, 14.5, 2.3, 11.3],
  ['CD11b', 1.06, 13.9, 1.04, 11.3],
  ['beta2-microglobulin', 1.35, 17.0, 1.9, 9.5],
  ['TCRalpha/beta', 1.19, 15.8, 0.86, 7.3],
  ['CD63.1', 1.41, 5.6, 1.48, 5.6],
];
const H_YTICKS = [0, 10, 20, 30, 40];

interface PanelDef {
  tag: string; title: string; grey: Pt[]; down: Pt[]; up: Pt[]; labels: Lab[];
  xTicks: number[]; yTicks: number[]; col: number; row: number; yAxisW: number;
}

const PANELS: PanelDef[] = [
  { tag: '(A)', title: ' DEP CD14 Mono HS vs Healthy', grey: A_GREY, down: A_DOWN, up: A_UP, labels: A_LABELS, xTicks: X_TICKS, yTicks: A_YTICKS, col: 0, row: 0, yAxisW: 26 },
  { tag: '(B)', title: ' DEP CD16 Mono HS vs Healthy', grey: B_GREY, down: B_DOWN, up: B_UP, labels: B_LABELS, xTicks: X_TICKS, yTicks: B_YTICKS, col: 1, row: 0, yAxisW: 27 },
  { tag: '(C)', title: ' DEP CD8 TCM HS vs Healthy', grey: C_GREY, down: C_DOWN, up: C_UP, labels: C_LABELS, xTicks: X_TICKS, yTicks: C_YTICKS, col: 0, row: 1, yAxisW: 25 },
  { tag: '(C)', title: ' DEP CD8 Naive HS vs Healthy', grey: N_GREY, down: N_DOWN, up: N_UP, labels: N_LABELS, xTicks: X_TICKS, yTicks: N_YTICKS, col: 1, row: 1, yAxisW: 25 },
  { tag: '(D)', title: ' DEP B intermediate HS vs Healthy', grey: D_GREY, down: D_DOWN, up: D_UP, labels: D_LABELS, xTicks: X_TICKS, yTicks: D_YTICKS, col: 0, row: 2, yAxisW: 25 },
  { tag: '(E)', title: ' DEP cDC2 HS vs Healthy', grey: E_GREY, down: E_DOWN, up: E_UP, labels: E_LABELS, xTicks: X_TICKS_E, yTicks: E_YTICKS, col: 1, row: 2, yAxisW: 25 },
  { tag: '(G)', title: 'DEP NK Proliferating HS vs Healthy', grey: G_GREY, down: G_DOWN, up: G_UP, labels: G_LABELS, xTicks: X_TICKS, yTicks: G_YTICKS, col: 0, row: 3, yAxisW: 24 },
  { tag: '(H)', title: 'DEP NK_CD56bright HS vs Healthy', grey: H_GREY, down: H_DOWN, up: H_UP, labels: H_LABELS, xTicks: X_TICKS, yTicks: H_YTICKS, col: 1, row: 3, yAxisW: 25 },
];

const ROW_TOPS = [0, 209, 419, 629];
const CELL_W = 334;
const CELL_H = 210;
const SANS = '"Liberation Sans", Arial, Helvetica, sans-serif';

function withMinors(majors: number[], lo: number, hi: number): number[] {
  const out = [...majors];
  for (let i = 0; i < majors.length - 1; i++) out.push((majors[i] + majors[i + 1]) / 2);
  if (majors.length > 1) {
    const step = majors[1] - majors[0];
    out.push(majors[0] - step / 2);
    out.push(majors[majors.length - 1] + step / 2);
  }
  return out.filter((v) => v >= lo && v <= hi).sort((a, b) => a - b);
}

function Panel({ p }: { p: PanelDef }) {
  const ref = useRef<HTMLCanvasElement | null>(null);
  useEffect(() => {
    if (!ref.current) return;
    const all = [...p.grey, ...p.down, ...p.up];
    const xs = all.map((d) => d[0]).concat(FC_LINES);
    const ys = all.map((d) => d[1]).concat([P_LINE]);
    const x0 = Math.min(...xs), x1 = Math.max(...xs);
    const y0 = Math.min(...ys), y1 = Math.max(...ys);
    const xmin = x0 - 0.05 * (x1 - x0), xmax = x1 + 0.05 * (x1 - x0);
    const ymin = y0 - 0.05 * (y1 - y0), ymax = y1 + 0.05 * (y1 - y0);
    const xAll = withMinors(p.xTicks, xmin, xmax);
    const yAll = withMinors(p.yTicks, ymin, ymax);
    const xMaj = new Set(p.xTicks);
    const yMaj = new Set(p.yTicks);

    const plugin = {
      id: 'volcano',
      beforeDatasetsDraw(chart: any) {
        const { ctx, chartArea: a, scales } = chart;
        const sx = scales.x, sy = scales.y;
        ctx.save();
        ctx.beginPath();
        ctx.rect(a.left, a.top, a.right - a.left, a.bottom - a.top);
        ctx.clip();
        ctx.lineWidth = 1;
        ctx.setLineDash([4, 3]);
        ctx.strokeStyle = '#a52a2a';
        for (const v of FC_LINES) {
          const X = Math.round(sx.getPixelForValue(v)) + 0.5;
          ctx.beginPath(); ctx.moveTo(X, a.top); ctx.lineTo(X, a.bottom); ctx.stroke();
        }
        ctx.strokeStyle = '#333';
        const Y = Math.round(sy.getPixelForValue(P_LINE)) + 0.5;
        ctx.beginPath(); ctx.moveTo(a.left, Y); ctx.lineTo(a.right, Y); ctx.stroke();
        ctx.restore();
      },
      afterDatasetsDraw(chart: any) {
        const { ctx, chartArea: a, scales } = chart;
        const sx = scales.x, sy = scales.y;
        ctx.save();
        ctx.font = `6px ${SANS}`;
        ctx.textAlign = 'center';
        ctx.textBaseline = 'middle';
        const h = 6;
        ctx.strokeStyle = '#111';
        ctx.lineWidth = 0.8;
        for (const [t, px, py, lx, ly] of p.labels) {
          const X = sx.getPixelForValue(px), Y = sy.getPixelForValue(py);
          const LX = sx.getPixelForValue(lx), LY = sy.getPixelForValue(ly);
          const w = ctx.measureText(t).width;
          const dx = X - LX, dy = Y - LY;
          const hw = w / 2 + 1, hh = h / 2 + 1;
          let s = Infinity;
          if (Math.abs(dx) > 1e-6) s = Math.min(s, hw / Math.abs(dx));
          if (Math.abs(dy) > 1e-6) s = Math.min(s, hh / Math.abs(dy));
          if (s >= 1) continue;
          const ex = LX + dx * s, ey = LY + dy * s;
          const len = Math.hypot(X - ex, Y - ey);
          if (len < 4) continue;
          const k = 2 / len;
          ctx.beginPath();
          ctx.moveTo(ex, ey);
          ctx.lineTo(X - (X - ex) * k, Y - (Y - ey) * k);
          ctx.stroke();
        }
        ctx.fillStyle = '#111';
        for (const [t, , , lx, ly] of p.labels) {
          ctx.fillText(t, sx.getPixelForValue(lx), sy.getPixelForValue(ly));
        }
        ctx.strokeStyle = '#8a8a8a';
        ctx.lineWidth = 1;
        ctx.strokeRect(Math.round(a.left) + 0.5, Math.round(a.top) + 0.5, Math.round(a.right - a.left) - 1, Math.round(a.bottom - a.top) - 1);
        ctx.textAlign = 'left';
        ctx.textBaseline = 'alphabetic';
        ctx.fillStyle = '#000';
        ctx.font = `bold 10.5px "Liberation Serif", "Times New Roman", serif`;
        const tx = p.col === 0 ? 7 : 9;
        ctx.fillText(p.tag, tx, 12.5);
        const tw = ctx.measureText(p.tag).width;
        ctx.font = `9.2px ${SANS}`;
        ctx.fillText(p.title, tx + tw + 0.5, 12.5);
        ctx.restore();
      },
    };

    const toXY = (arr: Pt[]) => arr.map(([x, y]) => ({ x, y }));
    const chart = new Chart(ref.current, {
      type: 'scatter',
      data: {
        datasets: [
          { data: toXY(p.grey), backgroundColor: 'rgba(195,195,195,0.85)', pointRadius: 2.1, borderWidth: 0 },
          { data: toXY(p.down), backgroundColor: 'rgba(236,45,50,0.85)', pointRadius: 2.2, borderWidth: 0 },
          { data: toXY(p.up), backgroundColor: 'rgba(55,55,185,0.85)', pointRadius: 2.2, borderWidth: 0 },
        ],
      },
      options: {
        animation: false,
        responsive: false,
        events: [],
        layout: { padding: { top: 18, right: 2, left: 0, bottom: 0 } },
        plugins: { legend: { display: false }, tooltip: { enabled: false }, title: { display: false } },
        scales: {
          x: {
            type: 'linear', min: xmin, max: xmax, bounds: 'data',
            afterBuildTicks: (s: any) => { s.ticks = xAll.map((v) => ({ value: v })); },
            afterFit: (s: any) => { s.height = 21; },
            ticks: {
              autoSkip: false, maxRotation: 0, minRotation: 0, padding: 1, color: '#4d4d4d',
              font: { size: 6, family: SANS },
              callback: (v: any) => (xMaj.has(v) ? String(v) : ''),
            },
            grid: {
              color: (c: any) => (c.tick && xMaj.has(c.tick.value) ? '#e3e3e3' : '#f2f2f2'),
              tickColor: (c: any) => (c.tick && xMaj.has(c.tick.value) ? '#555' : 'rgba(0,0,0,0)'),
              tickLength: 2, lineWidth: 1,
            },
            border: { display: false },
            title: { display: true, text: 'log2 Fold Change', color: '#111', font: { size: 7.5, family: SANS }, padding: { top: 0, bottom: 1.5 } },
          },
          y: {
            type: 'linear', min: ymin, max: ymax, bounds: 'data',
            afterBuildTicks: (s: any) => { s.ticks = yAll.map((v) => ({ value: v })); },
            afterFit: (s: any) => { s.width = p.yAxisW; },
            ticks: {
              autoSkip: false, padding: 1, color: '#4d4d4d',
              font: { size: 6, family: SANS },
              callback: (v: any) => (yMaj.has(v) ? String(v) : ''),
            },
            grid: {
              color: (c: any) => (c.tick && yMaj.has(c.tick.value) ? '#e3e3e3' : '#f2f2f2'),
              tickColor: (c: any) => (c.tick && yMaj.has(c.tick.value) ? '#555' : 'rgba(0,0,0,0)'),
              tickLength: 2, lineWidth: 1,
            },
            border: { display: false },
            title: { display: true, text: '-log10(p-value)', color: '#111', font: { size: 7.5, family: SANS }, padding: { top: 2.5, bottom: 0 } },
          },
        },
      } as any,
      plugins: [plugin],
    });
    return () => chart.destroy();
  }, [p]);

  return (
    <canvas
      ref={ref}
      width={CELL_W}
      height={CELL_H}
      style={{ position: 'absolute', left: p.col * CELL_W, top: ROW_TOPS[p.row], width: CELL_W, height: CELL_H }}
    />
  );
}

export default function App() {
  return (
    <div style={{ position: 'fixed', left: 0, top: 0, width: 668, height: 840, background: '#fff', overflow: 'hidden' }}>
      {PANELS.map((p, i) => (
        <Panel key={i} p={p} />
      ))}
    </div>
  );
}
